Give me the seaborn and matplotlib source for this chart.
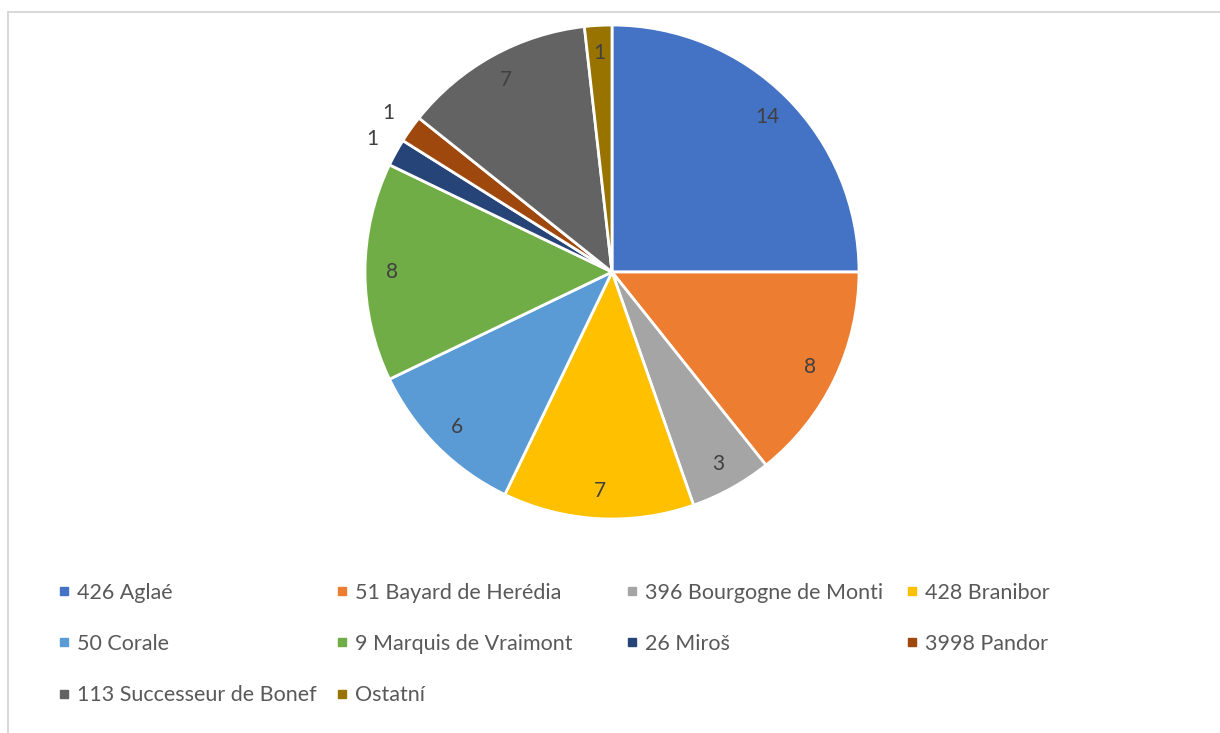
import numpy as np
import seaborn as sns
import matplotlib.pyplot as plt
from matplotlib.lines import Line2D

names = ["426 Aglaé", "51 Bayard de Herédia", "396 Bourgogne de Monti", "428 Branibor",
         "50 Corale", "9 Marquis de Vraimont", "26 Miroš", "3998 Pandor",
         "113 Successeur de Bonef", "Ostatní"]
counts = [14, 8, 3, 7, 6, 8, 1, 1, 7, 1]
colors = ["#4472C4", "#ED7D31", "#A5A5A5", "#FFC000", "#5B9BD5",
          "#70AD47", "#264478", "#9E480E", "#636363", "#997300"]
outside = ["26 Miroš", "3998 Pandor"]

sns.set_theme(style="white")
plt.rcParams['font.family'] = ['Lato', 'DejaVu Sans']

fig = plt.figure(figsize=(12.2, 7.33), dpi=100)
ax = fig.add_axes([0.2992, 0.2919, 0.4049, 0.674])

wedges, _ = ax.pie(counts, colors=colors, startangle=90, counterclock=False,
                   radius=1.0, wedgeprops=dict(edgecolor="white", linewidth=2))
ax.set_xlim(-1, 1)
ax.set_ylim(-1, 1)
ax.set_aspect("equal")
ax.axis("off")

# value labels
for w, n, v in zip(wedges, names, counts):
    mid = np.deg2rad((w.theta1 + w.theta2) / 2)
    d = 1.11 if n in outside else 0.89
    ax.text(d * np.cos(mid), d * np.sin(mid), str(v), ha="center", va="center",
            fontsize=15, color="#404040", clip_on=False)

# legend, one legend per column so positions match
handles = [Line2D([], [], marker="s", linestyle="none", markersize=6,
                  markerfacecolor=c, markeredgecolor=c) for c in colors]
cols = [[0, 4, 8], [1, 5, 9], [2, 6], [3, 7]]
xs = [0.047, 0.275, 0.513, 0.742]
for x, idx in zip(xs, cols):
    fig.legend([handles[i] for i in idx], [names[i] for i in idx],
               loc="upper left", bbox_to_anchor=(x, 0.205), frameon=False,
               fontsize=15.5, labelcolor="#595959", handlelength=0.6,
               handletextpad=0.3, labelspacing=1.45, borderpad=0,
               borderaxespad=0)

# chart border (top and left visible)
fig.add_artist(Line2D([8 / 1220, 1.0], [1 - 12 / 733, 1 - 12 / 733],
                      color="#D9D9D9", lw=1.5, transform=fig.transFigure))
fig.add_artist(Line2D([8 / 1220, 8 / 1220], [0, 1 - 12 / 733],
                      color="#D9D9D9", lw=1.5, transform=fig.transFigure))

fig.savefig("out.png", dpi=100)
